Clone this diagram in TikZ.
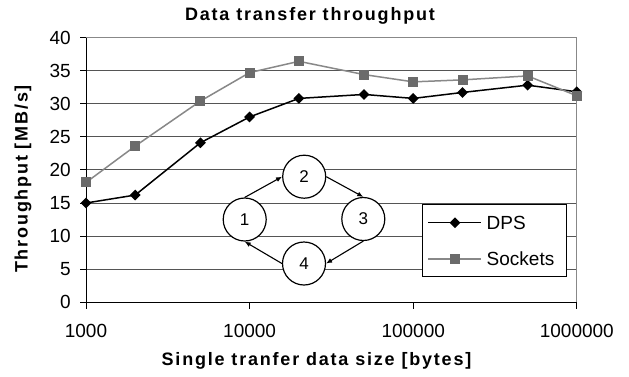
\documentclass[tikz,border=0pt]{standalone}
\usepackage{fontspec}
\setmainfont{Liberation Sans}
\newfontfamily\labfont[LetterSpace=10, UprightFont={* Bold}, BoldFont={* Bold}]{Liberation Sans}
\usetikzlibrary{arrows.meta,shapes.geometric}
\definecolor{gridc}{HTML}{555555}
\definecolor{borderc}{HTML}{888888}
\definecolor{sockline}{HTML}{888888}
\definecolor{sockmark}{HTML}{6B6B6B}
\begin{document}
\begin{tikzpicture}[x=1bp,y=-1bp,
  gridline/.style={draw=gridc, line width=0.9bp},
  borderline/.style={draw=borderc, line width=1.1bp},
  axisline/.style={draw=black, line width=1bp},
  dpsline/.style={draw=black, line width=1.5bp},
  sockln/.style={draw=sockline, line width=1.5bp},
  dmark/.style={shape=diamond, fill=black, inner sep=0pt, minimum width=11bp, minimum height=11bp},
  smark/.style={shape=rectangle, fill=sockmark, inner sep=0pt, minimum size=10bp},
  ticklab/.style={inner sep=0pt, font=\fontsize{19bp}{21bp}\selectfont},
  axlab/.style={inner sep=0pt, font=\labfont\bfseries\fontsize{18bp}{20bp}\selectfont},
  circ/.style={shape=circle, draw=black, fill=white, line width=1.2bp, minimum size=43bp, inner sep=0pt, font=\fontsize{17bp}{19bp}\selectfont},
  conn/.style={draw=black, line width=1.1bp, -{Latex[length=6bp,width=5bp]}}
]
\useasboundingbox (0,0) rectangle (629,376);
% grid
\foreach \v in {5,10,...,35} {
  \draw[gridline] (86,{302.3-6.62*\v}) -- (576.8,{302.3-6.62*\v});
}
\draw[borderline] (86,37.7) -- (576.8,37.7) -- (576.8,302.3);
% axes
\draw[axisline] (86,37.7) -- (86,302.3) -- (576.8,302.3);
\foreach \v in {0,5,...,40} {
  \draw[axisline] (80,{302.3-6.62*\v}) -- (86,{302.3-6.62*\v});
  \node[ticklab, anchor=east] (yl\v) at (71,{302.3-6.62*\v}) {\v};
}
\foreach \xx/\lab [count=\i] in {86/1000, 249.6/10000, 413.2/100000, 576.8/1000000} {
  \draw[axisline] (\xx,302.3) -- (\xx,308.5);
  \node[ticklab] (xl\i) at (\xx,331) {\lab};
}
% labels
\node[axlab] (title) at (310,15.5) {Data transfer throughput};
\node[axlab] (xlabel) at (316.5,361) {Single tranfer data size [bytes]};
\node[axlab, rotate=90] (ylabel) at (23,179) {Throughput [MB/s]};
% DPS data
\foreach \xx/\vv [count=\i] in {86/15, 135.2/16.2, 200.4/24.1, 249.6/28.0, 298.9/30.8, 364.0/31.4, 413.2/30.8, 462.5/31.7, 527.6/32.8, 576.8/31.8}
  \coordinate (d\i) at (\xx,{302.3-6.62*\vv});
\draw[dpsline] (d1) -- (d2) -- (d3) -- (d4) -- (d5) -- (d6) -- (d7) -- (d8) -- (d9) -- (d10);
\foreach \i in {1,...,10} \node[dmark] (dm\i) at (d\i) {};
% Sockets data
\foreach \xx/\vv [count=\i] in {86/18.1, 135.2/23.6, 200.4/30.4, 249.6/34.7, 298.9/36.4, 364.0/34.4, 413.2/33.3, 462.5/33.6, 527.6/34.2, 576.8/31.2}
  \coordinate (s\i) at (\xx,{302.3-6.62*\vv});
\draw[sockln] (s1) -- (s2) -- (s3) -- (s4) -- (s5) -- (s6) -- (s7) -- (s8) -- (s9) -- (s10);
\foreach \i in {1,...,10} \node[smark] (sm\i) at (s\i) {};
% legend
\node[draw=black, fill=white, line width=0.8bp, minimum width=144bp, minimum height=72bp, inner sep=0pt, anchor=north west] (legend) at (422.3,204) {};
\coordinate (la1) at (428,222.7);
\coordinate (lb1) at (481,222.7);
\coordinate (la2) at (428,259);
\coordinate (lb2) at (481,259);
\draw[dpsline] (la1) -- (lb1);
\node[dmark] (ldm) at (455,222.7) {};
\draw[sockln] (la2) -- (lb2);
\node[smark] (lsm) at (455,259) {};
\node[ticklab, anchor=west] (ldps) at (486.5,222.7) {DPS};
\node[ticklab, anchor=west] (lsock) at (486.5,259) {Sockets};
% cycle diagram
\node[circ] (c1) at (244.7,219.5) {1};
\node[circ] (c2) at (304.2,176.7) {2};
\node[circ] (c3) at (363.3,219) {3};
\node[circ] (c4) at (304,263.5) {4};
\draw[conn] (c1.north) -- (c2.west);
\draw[conn] (c2.east) -- (c3.north);
\draw[conn] (c3.south) -- (c4.east);
\draw[conn] (c4.west) -- (c1.south);
\end{tikzpicture}
\end{document}
